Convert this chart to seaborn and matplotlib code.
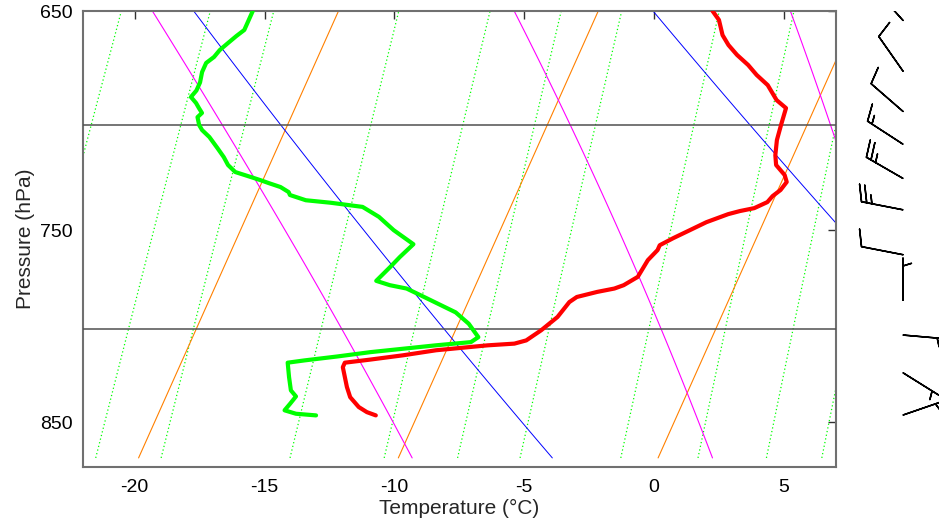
import numpy as np
import matplotlib
matplotlib.use("Agg")
import matplotlib.pyplot as plt
from matplotlib.ticker import NullLocator, FixedLocator, FixedFormatter
import seaborn as sns

sns.set_style("white")
plt.rcParams['font.family'] = ['Liberation Sans', 'DejaVu Sans']

# ---------------- data ----------------
# temperature profile (red)
temp_p = [650, 653.8, 660.3, 664.6, 668.9, 673.3, 677.7, 682.2, 688.9, 692.5, 700.2, 707.1,
          714.1, 718.7, 723.4, 726.7, 730.5, 733.4, 736.3, 739.2, 740.6, 742.1, 746.0, 749.9,
          753.8, 757.3, 759.7, 764.7, 773.1, 777.3, 779.0, 780.7, 783.3, 785.9, 793.6, 800.5,
          805.8, 807.5, 808.4, 811.0, 813.7, 816.0, 817.6, 820.0, 830.7, 836.2, 841.6, 844.4, 846.2]
temp_t = [-5.6, -5.2, -4.8, -4.4, -3.9, -3.3, -2.8, -2.2, -1.6, -1.1, -1.0, -0.9,
          -0.7, -0.5, 0.0, 0.2, 0.1, -0.1, -0.2, -0.6, -1.1, -1.5, -2.2, -2.7,
          -3.2, -3.6, -3.6, -3.8, -3.9, -4.3, -4.6, -5.2, -5.9, -6.1, -6.3, -6.7,
          -7.1, -7.5, -8.5, -10.4, -11.6, -12.8, -13.7, -13.7, -13.2, -12.9, -12.4, -12.0, -11.6]

# dew point profile (green)
dew_p = [650, 653.8, 658.1, 660.7, 663.7, 666.8, 669.8, 672.4, 676.4, 681.0, 684.6, 687.5,
         690.2, 692.5, 694.7, 696.6, 700.2, 702.5, 705.7, 710.8, 715.0, 718.7, 722.0, 724.4,
         725.8, 727.3, 729.1, 731.5, 732.9, 735.4, 736.6, 738.6, 743.4, 749.9, 756.8, 763.1,
         768.1, 775.1, 777.3, 779.0, 781.6, 791.2, 797.1, 804.1, 806.7, 808.4, 810.2, 812.0,
         814.3, 816.4, 817.6, 825.3, 832.5, 835.8, 839.8, 843.4, 845.3, 846.2]
dew_t = [-23.3, -23.3, -23.3, -23.5, -23.7, -23.9, -24.0, -24.2, -24.2, -24.1, -24.1, -24.2,
         -23.9, -23.7, -23.5, -23.6, -23.4, -23.2, -22.8, -22.3, -21.9, -21.6, -21.2, -20.5,
         -20.1, -19.7, -19.2, -18.8, -18.7, -18.0, -17.0, -15.7, -14.9, -14.1, -13.1, -13.4,
         -13.6, -13.9, -13.3, -12.6, -12.1, -10.3, -9.6, -9.0, -9.2, -10.5, -11.7, -12.9,
         -14.1, -15.3, -15.9, -15.6, -15.3, -15.0, -15.1, -15.2, -14.7, -13.9]

# background line families
isotherms = [-40, -30, -20, -10, 0, 10, 20]             # deg C (orange)
dry_adiabats = [260, 280, 300, 320, 340]                 # theta, K (blue)
moist_adiabats = [260, 280, 300, 320, 340]               # theta-e, K (magenta)
mixing_ratios = [0.57, 0.78, 0.97, 1.47, 1.97, 2.46, 2.96, 3.96, 4.92, 5.94, 6.9, 8.0]  # g/kg
line_p_top, line_p_bottom = 645, 870
guide_levels = [700, 800]

# wind barbs
wind_p = [654, 676, 694, 709, 725, 740, 762, 785, 803, 823, 846]
wind_dir = [318, 325, 311, 303, 300, 281, 281, 360, 95, 122, 71]
wind_spd = [10, 10, 10, 15, 25, 25, 10, 5, 5, 5, 5]

x_ticks = [-20, -15, -10, -5, 0, 5]
y_ticks = [650, 750, 850]
x_range = (-22, 7)
p_range = (875, 650)

# ---------------- helpers ----------------
SKEW_K, SKEW_P0 = 26.4, 875.0


def skew(t, p):
    return np.asarray(t) + SKEW_K * np.log(SKEW_P0 / np.asarray(p, dtype=float))


def sat_vp(tc):
    return 6.112 * np.exp(17.67 * tc / (tc + 243.5))


def theta_e(tc, p):
    tk = tc + 273.15
    es = sat_vp(tc)
    ws = 0.622 * es / (p - es)
    return tk * (1000.0 / p) ** 0.2857 * np.exp(2.5e6 * ws / (1004.0 * tk))


def moist_t(te, p):
    lo = np.full_like(p, -90.0)
    hi = np.full_like(p, 45.0)
    for _ in range(60):
        mid = 0.5 * (lo + hi)
        f = theta_e(mid, p) - te
        hi = np.where(f > 0, mid, hi)
        lo = np.where(f > 0, lo, mid)
    return 0.5 * (lo + hi)


pg = np.linspace(line_p_bottom, line_p_top, 120)

# ---------------- figure ----------------
fig = plt.figure(figsize=(9.39, 5.26), dpi=100)
ax = fig.add_axes([82.7 / 939, 1 - 466.7 / 526, (836 - 82.7) / 939, (466.7 - 11) / 526])
ax.set_yscale('log')

for w in mixing_ratios:
    e = w * pg / (622.0 + w)
    le = np.log(e / 6.112)
    t = 243.5 * le / (17.67 - le)
    sns.lineplot(x=skew(t, pg), y=pg, sort=False, estimator=None, ax=ax,
                 color='#00ff00', lw=0.9, linestyle=(0, (1, 2)), legend=False)

for t0 in isotherms:
    sns.lineplot(x=skew(np.full_like(pg, t0), pg), y=pg, sort=False, estimator=None, ax=ax,
                 color='#ff8000', lw=0.8, legend=False)

for th in dry_adiabats:
    t = th * (pg / 1000.0) ** 0.2857 - 273.15
    sns.lineplot(x=skew(t, pg), y=pg, sort=False, estimator=None, ax=ax,
                 color='#0000ff', lw=0.7, legend=False)

for te in moist_adiabats:
    t = moist_t(te, pg)
    sns.lineplot(x=skew(t, pg), y=pg, sort=False, estimator=None, ax=ax,
                 color='#ff00ff', lw=0.8, legend=False)

for lev in guide_levels:
    ax.axhline(lev, color='#505050', lw=1.1, zorder=3)

sns.lineplot(x=skew(dew_t, dew_p), y=dew_p, sort=False, estimator=None, ax=ax,
             color='#00ff00', lw=3.0, legend=False, zorder=5)
sns.lineplot(x=skew(temp_t, temp_p), y=temp_p, sort=False, estimator=None, ax=ax,
             color='#ff0000', lw=3.0, legend=False, zorder=6)

ax.set_xlim(*x_range)
ax.set_ylim(*p_range)
ax.yaxis.set_major_locator(FixedLocator(y_ticks))
ax.yaxis.set_major_formatter(FixedFormatter([str(v) for v in y_ticks]))
ax.yaxis.set_minor_locator(NullLocator())
ax.set_xticks(x_ticks)
ax.set_xticklabels([str(v) for v in x_ticks])

ax.tick_params(axis='both', which='major', direction='in', top=True, right=True,
               length=6, width=1.0, color='#303030', labelsize=14, labelcolor='black')
ax.tick_params(axis='x', pad=9)
ax.tick_params(axis='y', pad=7)
for s in ax.spines.values():
    s.set_color('#707070')
    s.set_linewidth(1.5)
    s.set_visible(True)

ax.set_xlabel('Temperature (°C)', fontsize=15, labelpad=2)
ax.set_ylabel('Pressure (hPa)', fontsize=15, labelpad=4)
ax.grid(False)

# wind barbs panel
bax = fig.add_axes([845 / 939, 1 - 466.7 / 526, (939 - 845) / 939, (466.7 - 11) / 526])
bax.set_yscale('log')
bax.set_ylim(*p_range)
bax.set_xlim(0, 1)
bax.axis('off')
rad = np.deg2rad(np.asarray(wind_dir, dtype=float))
spd = np.asarray(wind_spd, dtype=float)
u = -spd * np.sin(rad)
v = -spd * np.cos(rad)
bax.barbs(np.full(len(wind_p), (903 - 845) / (939 - 845)), wind_p, u, v,
          length=7.8, linewidth=1.1, color='black', clip_on=True)

fig.savefig('out.png', dpi=100)
